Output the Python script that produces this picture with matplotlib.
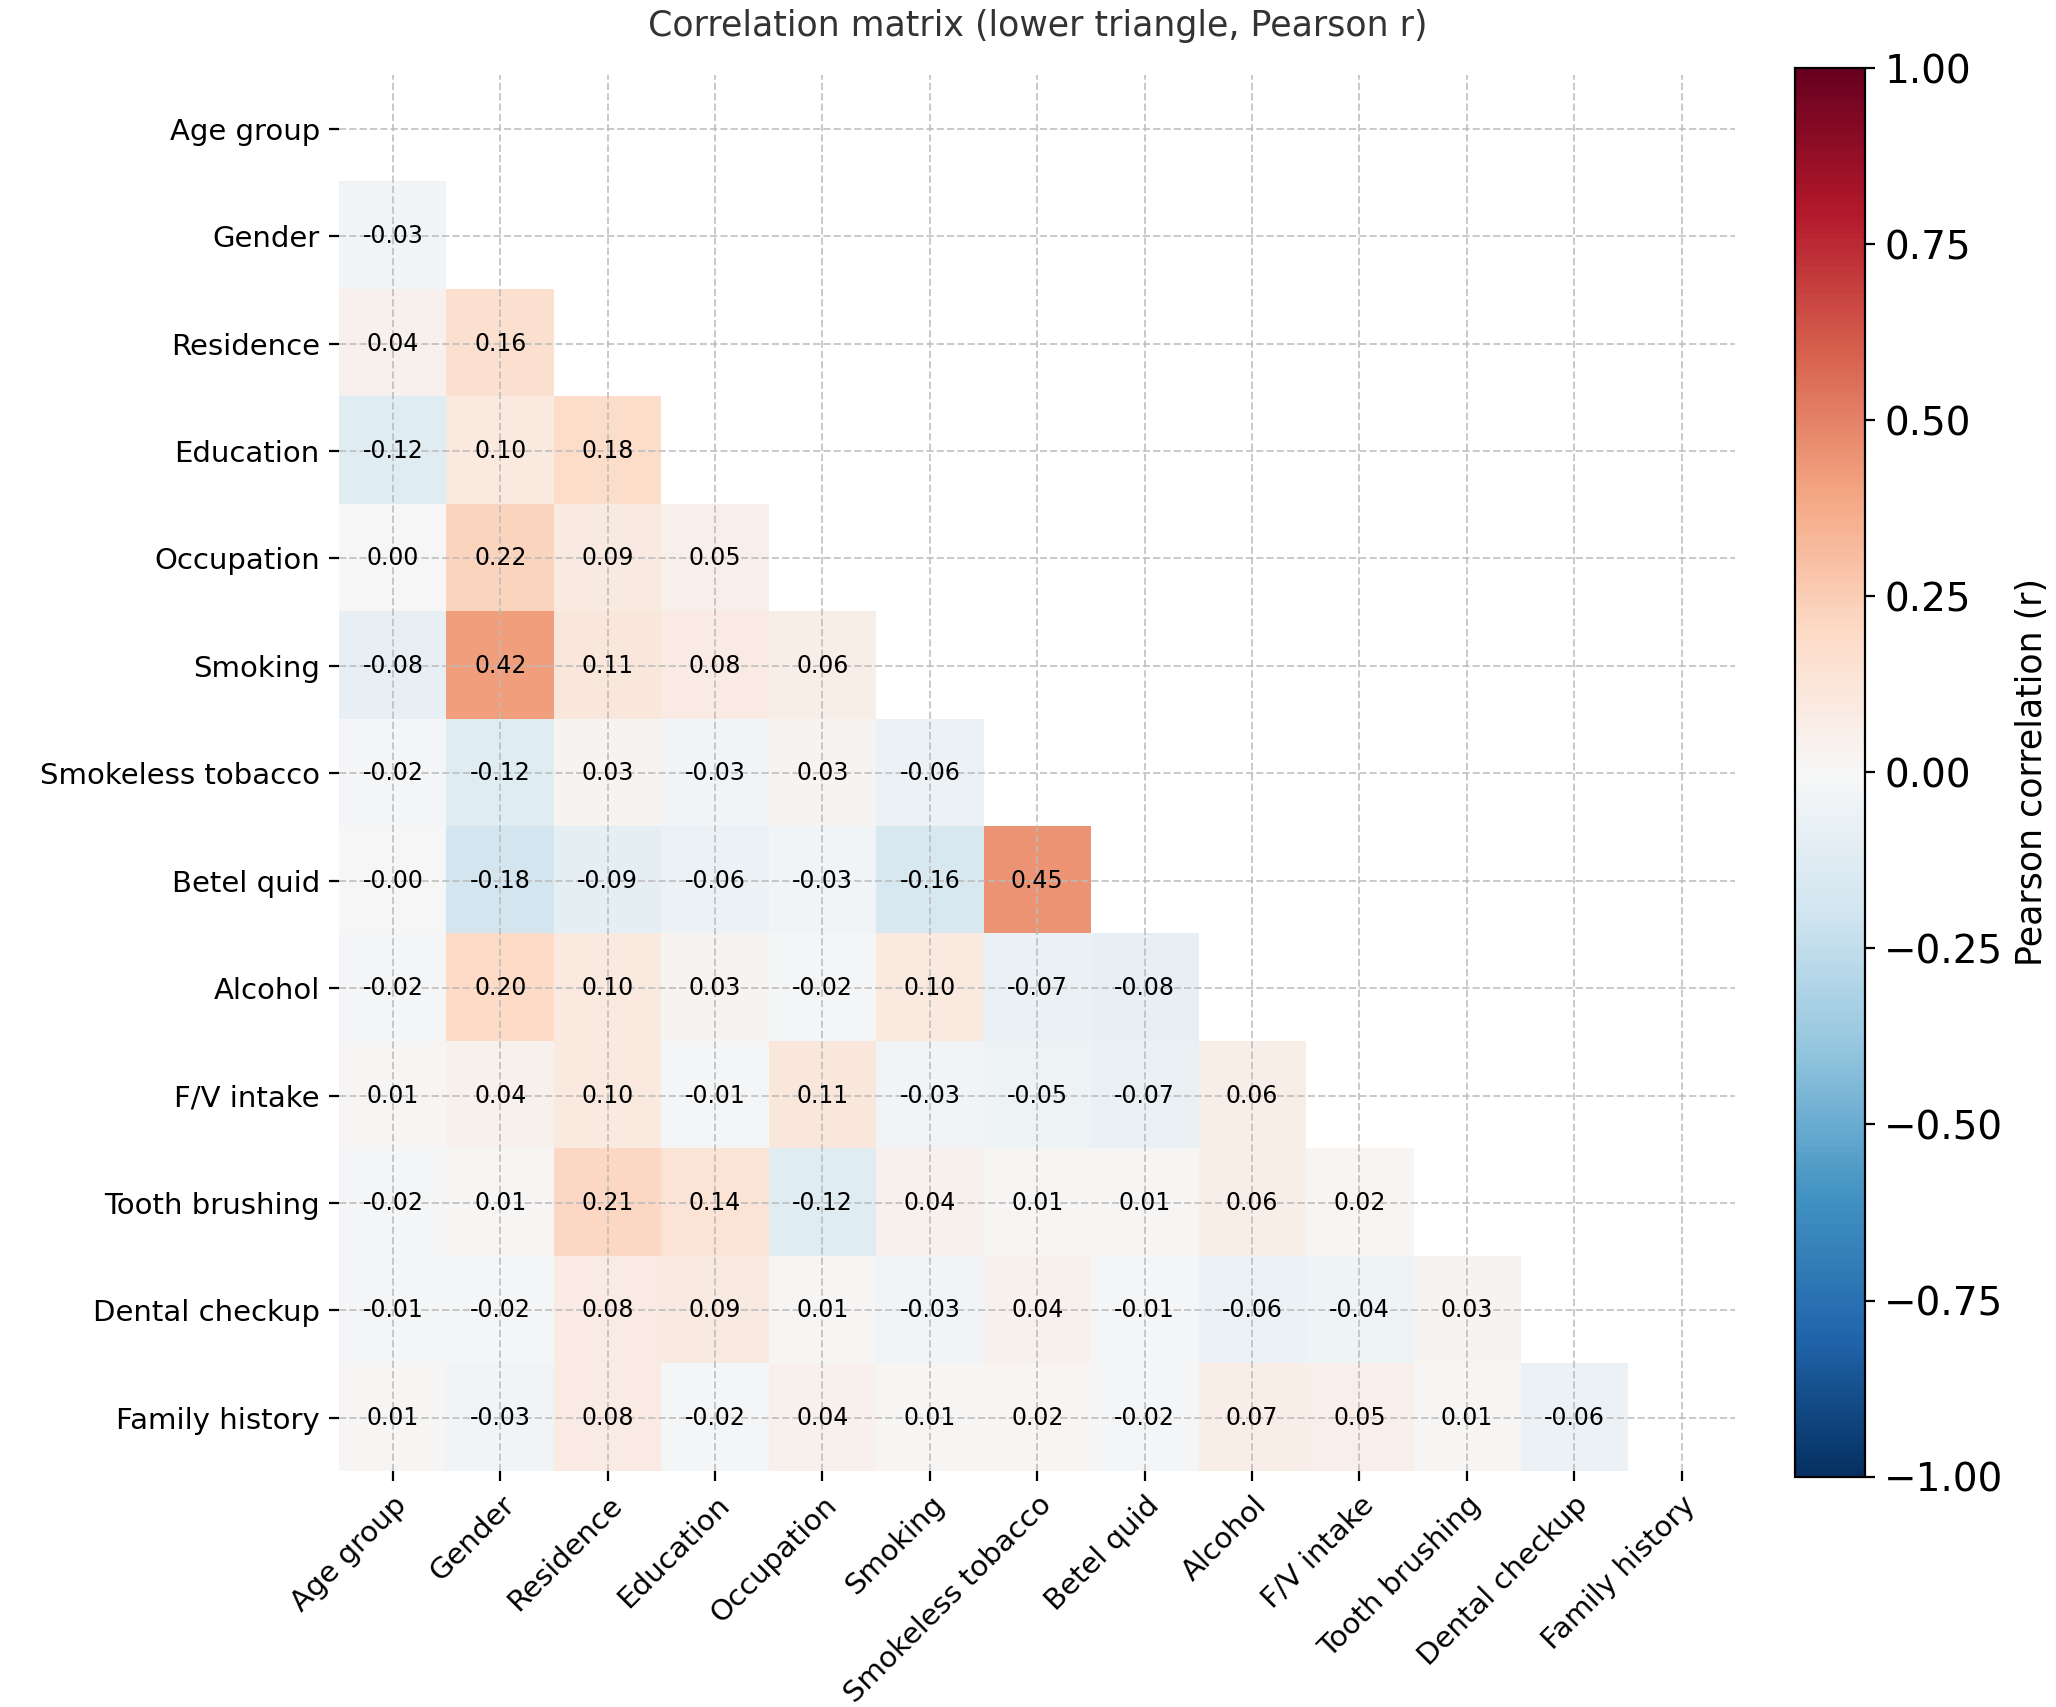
import numpy as np
import matplotlib
matplotlib.use("Agg")
import matplotlib.pyplot as plt

labels = ["Age group","Gender","Residence","Education","Occupation","Smoking",
          "Smokeless tobacco","Betel quid","Alcohol","F/V intake","Tooth brushing",
          "Dental checkup","Family history"]
rows = [
    [],
    [-0.03],
    [0.04,0.16],
    [-0.12,0.10,0.18],
    [0.00,0.22,0.09,0.05],
    [-0.08,0.42,0.11,0.08,0.06],
    [-0.02,-0.12,0.03,-0.03,0.03,-0.06],
    [-0.001,-0.18,-0.09,-0.06,-0.03,-0.16,0.45],
    [-0.02,0.20,0.10,0.03,-0.02,0.10,-0.07,-0.08],
    [0.01,0.04,0.10,-0.01,0.11,-0.03,-0.05,-0.07,0.06],
    [-0.02,0.01,0.21,0.14,-0.12,0.04,0.01,0.01,0.06,0.02],
    [-0.01,-0.02,0.08,0.09,0.01,-0.03,0.04,-0.01,-0.06,-0.04,0.03],
    [0.01,-0.03,0.08,-0.02,0.04,0.01,0.02,-0.02,0.07,0.05,0.01,-0.06],
]
n = len(labels)
M = np.full((n, n), np.nan)
for i, r in enumerate(rows):
    for j, v in enumerate(r):
        M[i, j] = v

fig = plt.figure(figsize=(10.28, 8.535), dpi=200)
ax = fig.add_axes([0.165, 0.138, 0.679, 0.818])
cax = fig.add_axes([0.873, 0.135, 0.034, 0.825])
im = ax.imshow(np.ma.masked_invalid(M), cmap="RdBu_r", vmin=-1, vmax=1, aspect="auto")
for i, r in enumerate(rows):
    for j, v in enumerate(r):
        ax.text(j, i, f"{v:.2f}", ha="center", va="center", fontsize=8.5, color="black")
ax.set_xticks(range(n))
ax.set_yticks(range(n))
ax.set_xticklabels(labels, rotation=45, ha="right", rotation_mode="anchor", fontsize=10.5)
ax.set_yticklabels(labels, fontsize=10.5)
ax.grid(True, linestyle="--", color="#bbbbbb", linewidth=0.7, alpha=0.8)
ax.set_axisbelow(False)
for s in ax.spines.values():
    s.set_visible(False)
ax.set_title("Correlation matrix (lower triangle, Pearson r)", fontsize=12.5, color="#333333", pad=14)
cb = fig.colorbar(im, cax=cax, ticks=[-1, -0.75, -0.5, -0.25, 0, 0.25, 0.5, 0.75, 1])
cb.ax.tick_params(labelsize=14)
cb.set_label("Pearson correlation (r)", fontsize=12.5)
fig.savefig("out.png", dpi=200)
